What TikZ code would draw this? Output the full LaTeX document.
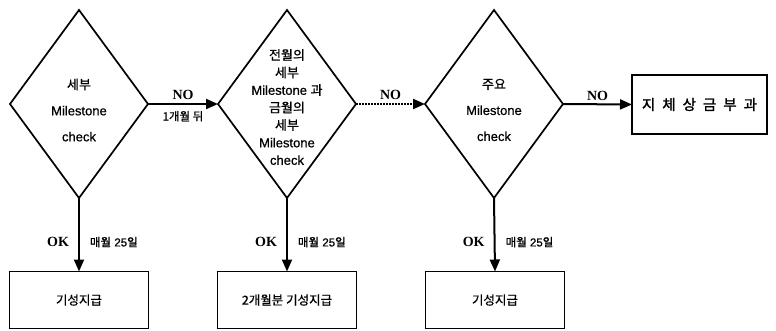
\documentclass[tikz,border=0pt]{standalone}
\usepackage{fontspec}
\setmainfont[FakeBold=0.7]{Liberation Sans}
\newfontfamily\kr[FakeBold=0.9]{Noto Sans CJK KR}
\newfontfamily\krb[FakeBold=1.6]{Noto Sans CJK KR}
\newfontfamily\ser{Liberation Serif}
\usetikzlibrary{shapes.geometric,arrows.meta}
\begin{document}
\begin{tikzpicture}[x=1pt,y=-1pt,
  dia/.style={draw,line width=1.7pt,diamond,minimum width=138pt,minimum height=188pt,inner sep=0pt,outer sep=0pt},
  box/.style={draw,line width=1.3pt,rectangle,minimum width=139pt,minimum height=57pt,inner sep=0pt,outer sep=0pt},
  dtext/.style={align=center,font=\fontsize{13}{26}\selectfont},
  arr/.style={line width=2pt,-{Triangle[length=12pt,width=10pt]}},
  nolab/.style={font=\ser\bfseries\fontsize{14}{14}\selectfont,inner sep=3pt},
  smalllab/.style={font=\fontsize{11.5}{12}\selectfont,inner sep=2pt}
]
\useasboundingbox (0,0) rectangle (776,330);
% diamonds
\node[dia] (d1) at (79,104) {};
\node[dia] (d2) at (287,104) {};
\node[dia] (d3) at (494,104) {};
\node[dtext] (t1) at (79,110) {{\kr 세부}\\Milestone\\check};
\node[align=center,font=\fontsize{13}{17.5}\selectfont] (t2) at (287,107) {{\kr 전월의}\\{\kr 세부}\\Milestone {\kr 과}\\{\kr 금월의}\\{\kr 세부}\\Milestone\\check};
\node[dtext] (t3) at (494,110) {{\kr 주요}\\Milestone\\check};
% boxes
\node[box] (b1) at (79,300) {\kr\fontsize{12.5}{14}\selectfont 기성지급};
\node[box] (b2) at (287,300) {\kr\fontsize{12.5}{14}\selectfont 2개월분 기성지급};
\node[box] (b3) at (495,300) {\kr\fontsize{12.5}{14}\selectfont 기성지급};
\node[draw,line width=1.5pt,minimum width=135pt,minimum height=59pt,inner sep=0pt,outer sep=0pt] (b4) at (699.5,104.5) {\krb\fontsize{14.5}{16}\selectfont 지\hspace{7pt}체\hspace{7pt}상\hspace{7pt}금\hspace{7pt}부\hspace{7pt}과};
% horizontal arrows
\draw[arr] (d1.east) -- node[above,nolab] {NO} node[below,smalllab,yshift=-4pt] {\kr 1개월 뒤} (d2.west);
\draw[arr,dash pattern=on 1.6pt off 1.4pt] (d2.east) -- node[above,nolab] {NO} (d3.west);
\draw[arr] (d3.east) -- node[above,nolab] {NO} (b4.west);
% vertical arrows
\foreach \d/\b in {d1/b1,d2/b2,d3/b3}{
  \draw[arr] (\d.south) -- node[pos=0.6,left,nolab,xshift=-6pt] {OK} node[pos=0.6,right,smalllab,xshift=8pt] {{\kr 매월} 25{\kr 일}} (\b.north);
}
\end{tikzpicture}
\end{document}
